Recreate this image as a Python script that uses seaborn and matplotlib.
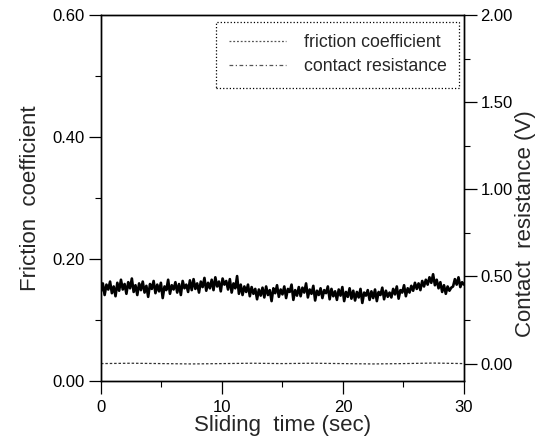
import numpy as np
import pandas as pd
import matplotlib
matplotlib.use("Agg")
import matplotlib.pyplot as plt
import seaborn as sns
from matplotlib.ticker import MultipleLocator, FormatStrFormatter
from matplotlib.lines import Line2D

# ---- data ----
friction_dt = 0.15  # s between friction samples
friction = [
    0.147, 0.160, 0.141, 0.158, 0.150, 0.163, 0.144, 0.155, 0.139, 0.161,
    0.148, 0.166, 0.150, 0.159, 0.143, 0.162, 0.152, 0.168, 0.146, 0.157,
    0.141, 0.160, 0.149, 0.163, 0.145, 0.156, 0.138, 0.159, 0.151, 0.164,
    0.144, 0.158, 0.147, 0.161, 0.136, 0.155, 0.149, 0.166, 0.143, 0.157,
    0.150, 0.162, 0.145, 0.159, 0.141, 0.164, 0.152, 0.158, 0.146, 0.165,
    0.149, 0.167, 0.151, 0.160, 0.145, 0.163, 0.154, 0.169, 0.148, 0.161,
    0.152, 0.166, 0.149, 0.170, 0.155, 0.163, 0.147, 0.168, 0.158, 0.164,
    0.150, 0.167, 0.145, 0.160, 0.152, 0.172, 0.143, 0.158, 0.141, 0.155,
    0.146, 0.158, 0.139, 0.154, 0.143, 0.151, 0.134, 0.150, 0.140, 0.153,
    0.137, 0.155, 0.141, 0.149, 0.131, 0.152, 0.144, 0.157, 0.138, 0.150,
    0.142, 0.155, 0.136, 0.151, 0.146, 0.158, 0.133, 0.149, 0.140, 0.154,
    0.139, 0.153, 0.145, 0.160, 0.137, 0.150, 0.143, 0.156, 0.132, 0.148,
    0.141, 0.152, 0.136, 0.149, 0.144, 0.155, 0.134, 0.151, 0.139, 0.147,
    0.133, 0.150, 0.140, 0.154, 0.131, 0.146, 0.138, 0.152, 0.135, 0.148,
    0.132, 0.146, 0.137, 0.151, 0.128, 0.145, 0.140, 0.149, 0.133, 0.147,
    0.136, 0.150, 0.131, 0.146, 0.141, 0.153, 0.134, 0.148, 0.138, 0.145,
    0.137, 0.151, 0.142, 0.155, 0.135, 0.149, 0.145, 0.157, 0.139, 0.152,
    0.145, 0.156, 0.148, 0.161, 0.151, 0.160, 0.149, 0.164, 0.155, 0.166,
    0.158, 0.170, 0.161, 0.175, 0.157, 0.166, 0.152, 0.162, 0.146, 0.157,
    0.143, 0.155, 0.148, 0.153, 0.155, 0.167, 0.158, 0.170, 0.154, 0.162,
    0.158,
]
contact_time = [0, 2.5, 5, 7.5, 10, 12.5, 15, 17.5, 20, 22.5, 25, 27.5, 30]
contact = [0.00, 0.002, 0.00, -0.002, 0.00, 0.002, 0.00, 0.002, 0.00, -0.002, 0.00, 0.003, 0.00]

left_ticks = [0.0, 0.2, 0.4, 0.6]
right_ticks = [0.0, 0.5, 1.0, 1.5, 2.0]
x_ticks = [0, 10, 20, 30]

friction_time = [round(i * friction_dt, 3) for i in range(len(friction))]
df_f = pd.DataFrame({"time": friction_time, "friction": friction})
df_c = pd.DataFrame({"time": contact_time, "contact": contact})

sns.set_theme(style="ticks")
plt.rcParams["font.family"] = ["Liberation Sans", "DejaVu Sans"]

fig = plt.figure(figsize=(5.51, 4.46), dpi=100)
ax = fig.add_axes([0.1833, 0.1457, 0.6587, 0.8207])
ax2 = ax.twinx()

sns.lineplot(data=df_f, x="time", y="friction", ax=ax, color="black",
             linewidth=1.9, legend=False)
sns.lineplot(data=df_c, x="time", y="contact", ax=ax2, color="#333333",
             linewidth=0.9, linestyle=(0, (2.0, 1.5)), legend=False)

ax.set_xlim(0, 30)
ax.set_ylim(0, 0.6)
ax2.set_ylim(-0.1, 2.0)

ax.set_xticks(x_ticks)
ax.xaxis.set_minor_locator(MultipleLocator(5))
ax.set_yticks(left_ticks)
ax.yaxis.set_minor_locator(MultipleLocator(0.1))
ax.yaxis.set_major_formatter(FormatStrFormatter("%.2f"))
ax2.set_yticks(right_ticks)
ax2.yaxis.set_minor_locator(MultipleLocator(0.25))
ax2.yaxis.set_major_formatter(FormatStrFormatter("%.2f"))

for a in (ax, ax2):
    for s in a.spines.values():
        s.set_visible(True)
        s.set_color("black")
        s.set_linewidth(1.0)
    a.tick_params(which="major", length=9, width=0.9, color="black",
                  labelsize=12, labelcolor="black", direction="out")
    a.tick_params(which="minor", length=4.5, width=0.8, color="black",
                  direction="out")
ax.tick_params(axis="x", pad=5)
ax.tick_params(axis="y", pad=3)
ax2.tick_params(axis="y", pad=3)

ax.set_xlabel("Sliding  time (sec)", fontsize=16, labelpad=0)
ax.set_ylabel("Friction  coefficient", fontsize=16, labelpad=8)
ax2.set_ylabel("Contact  resistance (V)", fontsize=16)
ax2.yaxis.set_label_coords(1.14, 0.43)

hf = Line2D([], [], color="#555555", linestyle=(0, (1.5, 1.5)), linewidth=0.9)
hc = Line2D([], [], color="#555555", linestyle=(0, (3, 2, 1, 2)), linewidth=0.9)
leg = ax2.legend([hf, hc], ["friction coefficient", "contact resistance"],
                 loc="upper right", bbox_to_anchor=(0.986, 0.981),
                 fontsize=12.8, frameon=True, fancybox=False,
                 handlelength=3.2, handletextpad=1.0, labelspacing=0.4,
                 borderpad=0.7, borderaxespad=0)
fr = leg.get_frame()
fr.set_edgecolor("black")
fr.set_linestyle(":")
fr.set_linewidth(0.9)
fr.set_facecolor("white")
fr.set_alpha(1)

fig.savefig("out.png", dpi=100)
